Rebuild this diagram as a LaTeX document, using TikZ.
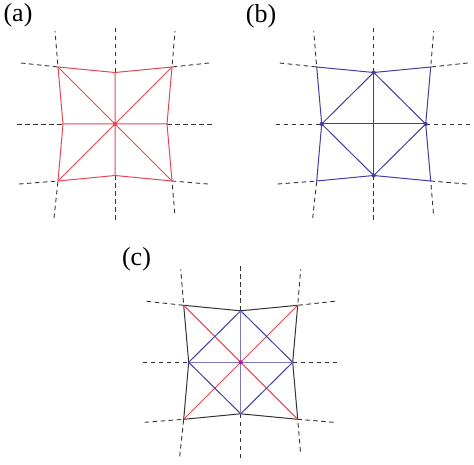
\documentclass[tikz,border=0pt]{standalone}
\usepackage{fontspec}
\setmainfont{Liberation Serif}
\usepackage{xcolor}
\usetikzlibrary{calc,
	positioning}
\definecolor{meshred}{RGB}{226,72,84}
\definecolor{meshblue}{RGB}{66,62,160}
\definecolor{meshmag}{RGB}{160,30,170}
\tikzstyle{grid}=[draw=black!80, line width=0.9pt, dash pattern=on 4.5pt off 3.5pt]
\tikzstyle{rl}=[draw=meshred, line width=1pt]
\tikzstyle{bl}=[draw=meshblue, line width=1pt]
\tikzstyle{kl}=[draw=black!80, line width=1pt]
\tikzstyle{pt}=[circle, inner sep=0, minimum size=4.2pt]
\tikzstyle{lab}=[inner sep=0, font=\fontsize{26}{26}\selectfont]
% points of one cell and the dashed grid round it
\newcommand{\cellpoints}{
	\coordinate (o) at (0,0);
	\coordinate (tl) at (-57,-57); \coordinate (tm) at (0,-51.5);
	\coordinate (tr) at (57,-57);  \coordinate (rm) at (52,0);
	\coordinate (br) at (57,57);   \coordinate (bm) at (0,51.5);
	\coordinate (bl) at (-57,57);  \coordinate (lm) at (-52,0);
	\coordinate (gn) at (0,-96);   \coordinate (gs) at (0,98);
	\coordinate (gw) at (-98,0);   \coordinate (ge) at (98,0);
	\coordinate (gtlh) at (-94,-61); \coordinate (gtlv) at (-60,-93);
	\coordinate (gtrh) at (94,-61);  \coordinate (gtrv) at (60,-93);
	\coordinate (gblh) at (-96,60);  \coordinate (gblv) at (-61,94);
	\coordinate (gbrh) at (93,60);   \coordinate (gbrv) at (60,92);
	\draw[grid] (gn) -- (tm) (bm) -- (gs) (gw) -- (lm) (rm) -- (ge);
	\draw[grid] (gtlh) -- (tl) -- (gtlv) (gtrh) -- (tr) -- (gtrv);
	\draw[grid] (gblh) -- (bl) -- (gblv) (gbrh) -- (br) -- (gbrv);
}
\newcommand{\celloutline}[1]{
	\draw[#1] (tl) -- (tm) -- (tr) -- (rm) -- (br) -- (bm) -- (bl) -- (lm) -- cycle;
}

\begin{document}
\begin{tikzpicture}[x=1pt, y=-1pt]
	\useasboundingbox (0,0) rectangle (474,465);

	% (a)
	\node[lab] (laba) at (18,15.5) {(a)};
	\begin{scope}[shift={(115,124)}]
		\cellpoints
		\celloutline{rl}
		\draw[rl] (tl) -- (br) (tr) -- (bl) (tm) -- (bm) (lm) -- (rm);
		\node[pt, fill=meshred] (ca) at (o) {};
	\end{scope}

	% (b)
	\node[lab] (labb) at (261,16.5) {(b)};
	\begin{scope}[shift={(373.7,124)}]
		\cellpoints
		\celloutline{bl}
		\draw[bl] (tm) -- (rm) -- (bm) -- (lm) -- cycle;
		\draw[bl] (tm) -- (bm) (lm) -- (rm);
		\node[pt, fill=meshblue] (nb) at (tm) {};
		\node[pt, fill=meshblue] (eb) at (rm) {};
		\node[pt, fill=meshblue] (sb) at (bm) {};
		\node[pt, fill=meshblue] (wb) at (lm) {};
	\end{scope}

	% (c)
	\node[lab] (labc) at (136.5,259) {(c)};
	\begin{scope}[shift={(240.7,362.3)}]
		\cellpoints
		\celloutline{kl}
		\draw[rl] (tl) -- (br) (tr) -- (bl);
		\draw[bl] (tm) -- (rm) -- (bm) -- (lm) -- cycle;
		\draw[bl, draw=meshblue!70] (tm) -- (bm) (lm) -- (rm);
		\node[pt, fill=meshmag] (cc) at (o) {};
	\end{scope}
\end{tikzpicture}
\end{document}
